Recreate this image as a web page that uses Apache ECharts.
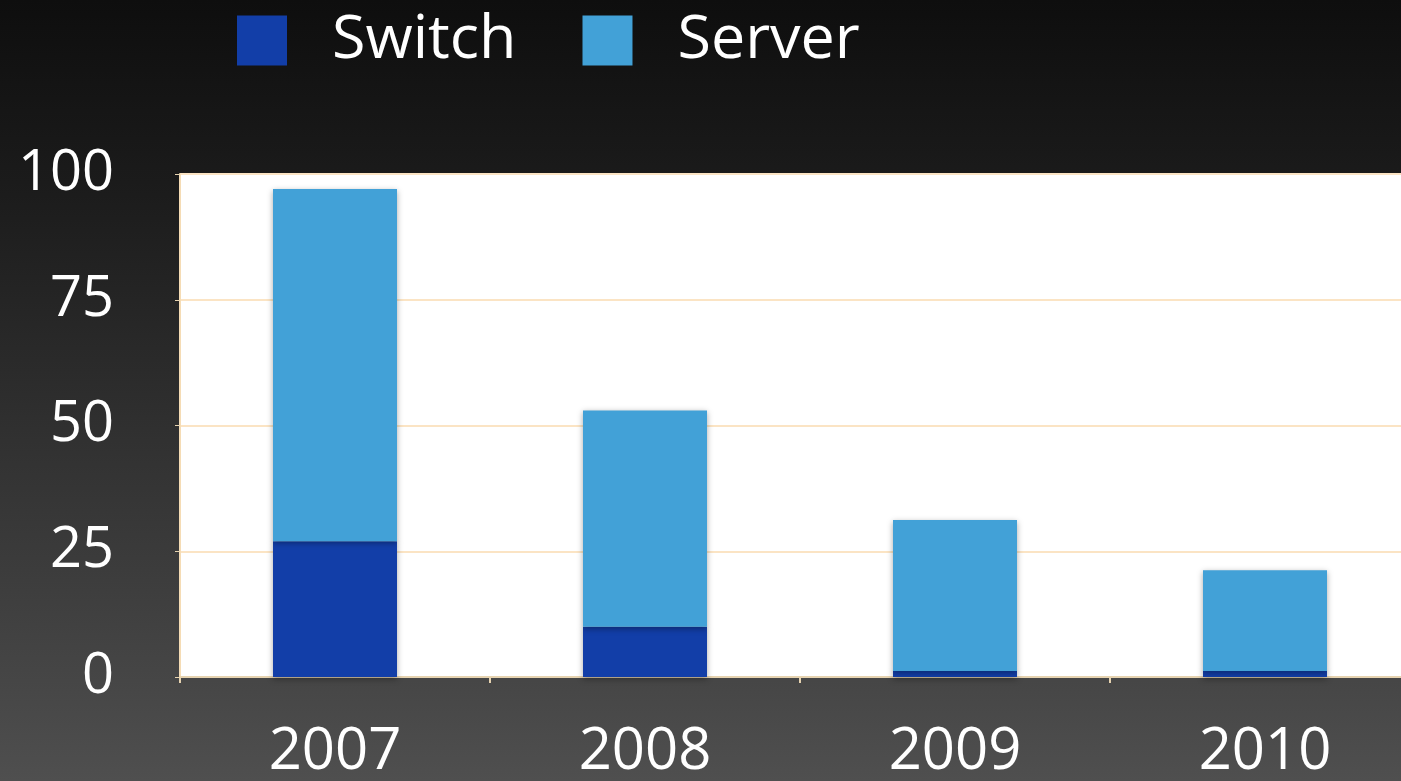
<!DOCTYPE html>
<html>
<head>
<meta charset="utf-8">
<script src="https://cdn.jsdelivr.net/npm/echarts@6/dist/echarts.min.js"></script>
<style>
  html, body { margin: 0; padding: 0; overflow: hidden; width: 1401px; height: 781px; }
  body { background: linear-gradient(#0e0e0e 0%, #1c1c1c 25%, #3a3a3a 70%, #4f4f4f 100%); }
  #main { width: 1420px; height: 781px; }
</style>
</head>
<body>
<div id="main"></div>
<script>
var years = ['2007', '2008', '2009', '2010']
var switchData = [27, 10, 1.2, 1.2]
var serverData = [70, 43, 30, 20]
var yTicks = { min: 0, max: 100, interval: 25 }

var myChart = echarts.init(document.getElementById('main'))
var font = '"Open Sans", "Noto Sans", sans-serif'
var barShadow = {
  shadowColor: 'rgba(0,0,0,0.35)',
  shadowBlur: 6,
  shadowOffsetY: 2
}

myChart.setOption({
  backgroundColor: 'transparent',
  legend: {
    left: 237,
    top: 10,
    padding: 0,
    itemWidth: 50,
    itemHeight: 50,
    itemGap: 66,
    icon: 'rect',
    textStyle: { color: '#ffffff', fontSize: 61, fontFamily: font, padding: [0, 0, 0, 40] },
    data: ['Switch', 'Server']
  },
  grid: {
    left: 180,
    top: 174,
    right: 0,
    height: 503,
    backgroundColor: '#ffffff',
    show: true,
    borderWidth: 0
  },
  xAxis: {
    type: 'category',
    data: years,
    axisLine: { lineStyle: { color: '#e6d3b0', width: 2 } },
    axisTick: { show: true, length: 6, lineStyle: { color: '#e6d3b0', width: 2 } },
    axisLabel: { color: '#ffffff', fontSize: 58, fontFamily: font, margin: 46 }
  },
  yAxis: {
    type: 'value',
    min: yTicks.min,
    max: yTicks.max,
    interval: yTicks.interval,
    axisLine: { show: true, lineStyle: { color: '#f5dcb5', width: 2 } },
    axisTick: { show: true, length: 5, lineStyle: { color: '#e6d3b0' } },
    splitLine: { lineStyle: { color: '#fbe4c4', width: 2 } },
    axisLabel: { color: '#ffffff', fontSize: 56, fontFamily: font, margin: 66 }
  },
  series: [
    {
      name: 'Switch',
      type: 'bar',
      stack: 'total',
      barWidth: 124,
      data: switchData,
      itemStyle: Object.assign({ color: '#123ea8' }, barShadow)
    },
    {
      name: 'Server',
      type: 'bar',
      stack: 'total',
      barWidth: 124,
      data: serverData,
      itemStyle: Object.assign({ color: '#42a1d7' }, barShadow)
    }
  ]
})
</script>
</body>
</html>
